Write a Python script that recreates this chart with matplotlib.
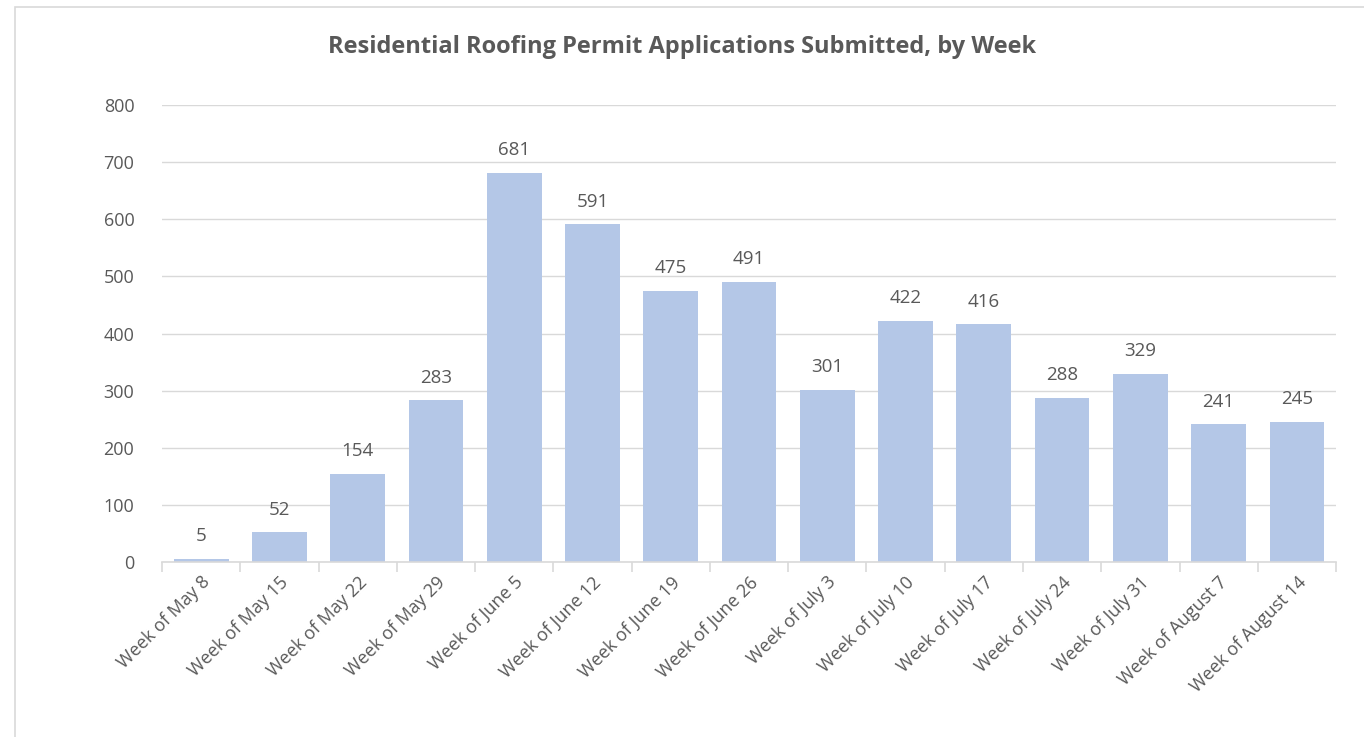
import matplotlib
matplotlib.use("Agg")
import matplotlib.pyplot as plt  # noqa: E402
from matplotlib.patches import Rectangle  # noqa: E402

WEEKS = ["Week of May 8", "Week of May 15", "Week of May 22", "Week of May 29",
         "Week of June 5", "Week of June 12", "Week of June 19",
         "Week of June 26", "Week of July 3", "Week of July 10",
         "Week of July 17", "Week of July 24", "Week of July 31",
         "Week of August 7", "Week of August 14"]
PERMITS = [5, 52, 154, 283, 681, 591, 475, 491, 301, 422, 416, 288, 329,
           241, 245]
Y_TICKS = [0, 100, 200, 300, 400, 500, 600, 700, 800]

INK = "#595959"
BAR = "#b4c7e7"
GRID = "#d9d9d9"

plt.rcParams["font.family"] = ["Open Sans", "DejaVu Sans"]

fig = plt.figure(figsize=(13.64, 7.37), dpi=100)
ax = fig.add_axes([0.1188, 0.2374, 0.8607, 0.6201])

# outer chart frame (only left/top visible in the crop)
fig.patches.append(Rectangle((15 / 1364, -0.2), 1.2, 0.2 + 1 - 7 / 737,
                             transform=fig.transFigure, fill=False,
                             edgecolor=GRID, lw=1.2))

x = range(len(WEEKS))
bars = ax.bar(x, PERMITS, width=0.70, color=BAR, zorder=2)
for xi, v in zip(x, PERMITS):
    ax.text(xi, v + 24, str(v), ha="center", va="bottom", fontsize=13.5,
            color=INK)

ax.set_xlim(-0.5, len(WEEKS) - 0.5)
ax.set_ylim(0, 800)
ax.set_yticks(Y_TICKS)
ax.set_yticklabels([str(t) for t in Y_TICKS], fontsize=13, color=INK)
ax.tick_params(axis="y", length=0, pad=20)
ax.grid(True, axis="y", color=GRID, lw=1, zorder=0)

ax.set_xticks(list(x))
ax.set_xticklabels(WEEKS, rotation=45, ha="right", rotation_mode="anchor",
                   fontsize=13, color=INK)
ax.tick_params(axis="x", length=0, pad=8)
# category divider ticks on the x axis
ax.set_xticks([i - 0.5 for i in range(len(WEEKS) + 1)], minor=True)
ax.tick_params(axis="x", which="minor", length=7, color=GRID, width=1.2)

for sp in ("top", "right", "left"):
    ax.spines[sp].set_visible(False)
ax.spines["bottom"].set_color(GRID)
ax.spines["bottom"].set_linewidth(1.2)

fig.text(0.5, 0.936, "Residential Roofing Permit Applications Submitted, by Week",
         ha="center", va="center", fontsize=17, fontweight="bold", color=INK)

fig.savefig("out.png", facecolor="white")
